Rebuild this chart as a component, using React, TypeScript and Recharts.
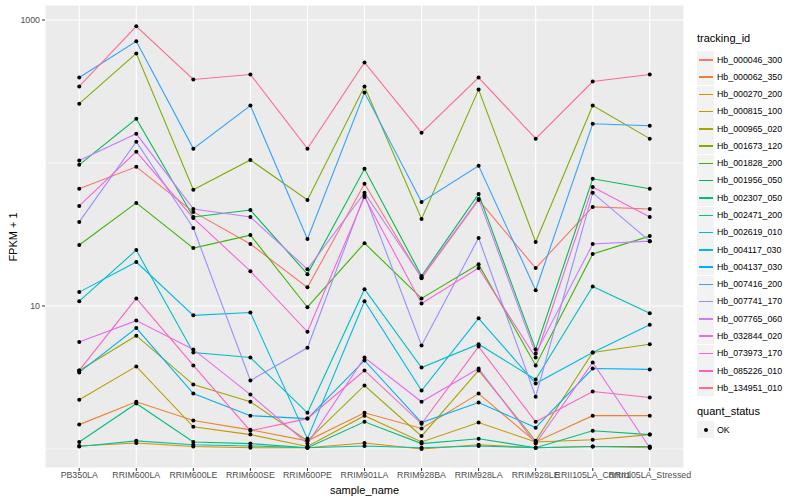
import React from 'react';
import { LineChart, Line, XAxis, YAxis, CartesianGrid } from 'recharts';

const SAMPLES = [
  'PB350LA', 'RRIM600LA', 'RRIM600LE', 'RRIM600SE', 'RRIM600PE', 'RRIM901LA',
  'RRIM928BA', 'RRIM928LA', 'RRIM928LE', 'RRII105LA_Control', 'RRII105LA_Stressed',
];

const TRACKING_IDS = [
  'Hb_000046_300', 'Hb_000062_350', 'Hb_000270_200', 'Hb_000815_100', 'Hb_000965_020',
  'Hb_001673_120', 'Hb_001828_200', 'Hb_001956_050', 'Hb_002307_050', 'Hb_002471_200',
  'Hb_002619_010', 'Hb_004117_030', 'Hb_004137_030', 'Hb_007416_200', 'Hb_007741_170',
  'Hb_007765_060', 'Hb_032844_020', 'Hb_073973_170', 'Hb_085226_010', 'Hb_134951_010',
];

// ggplot default hue palette, 20 levels
const COLORS = [
  '#F8766D', '#EA8331', '#D89000', '#C09B00', '#A3A500', '#7CAE00', '#39B600', '#00BB4E',
  '#00BF7D', '#00C1A3', '#00BFC4', '#00BAE0', '#00B0F6', '#35A2FF', '#9590FF', '#C77CFF',
  '#E76BF3', '#FA62DB', '#FF62BC', '#FF6C91',
];

// FPKM + 1 per sample
const HB_000046 = [66, 94, 45.5, 27.1, 13.5, 71.5, 15.6, 55.2, 18.4, 49.3, 47.7];
const HB_000062 = [1.48, 2.14, 1.58, 1.36, 1.14, 1.79, 1.39, 2.44, 1.12, 1.71, 1.71];
const HB_000270 = [1.05, 1.1, 1.04, 1.02, 1.02, 1.1, 1.0, 1.07, 1.02, 1.04, 1.02];
const HB_000815 = [2.21, 3.78, 1.43, 1.26, 1.04, 1.71, 1.12, 1.53, 1.12, 1.16, 1.26];
const HB_000965 = [3.54, 6.2, 2.82, 2.14, 1.14, 2.78, 1.23, 3.54, 1.14, 4.73, 5.4];
const HB_001673 = [260, 584, 64.9, 105, 55.2, 343, 40.6, 326, 28.0, 252, 148];
const HB_001828 = [26.7, 52.6, 25.4, 31.3, 9.8, 27.5, 11.3, 19.6, 3.84, 23.1, 30.8];
const HB_001956 = [97, 204, 41.9, 46.9, 16.7, 91, 16.2, 60.8, 4.97, 77.5, 66];
const HB_002307 = [1.12, 2.08, 1.12, 1.09, 1.02, 1.55, 1.09, 1.18, 1.02, 1.34, 1.26];
const HB_002471 = [1.04, 1.14, 1.07, 1.05, 1.02, 1.05, 1.02, 1.05, 1.02, 1.04, 1.04];
const HB_002619 = [10.8, 24.6, 4.73, 4.36, 1.79, 13.1, 3.71, 5.4, 3.06, 13.7, 8.9];
const HB_004117 = [12.5, 20.3, 8.6, 9.0, 1.18, 10.8, 2.56, 8.2, 2.87, 4.73, 7.4];
const HB_004137 = [3.43, 7.0, 2.44, 1.71, 1.63, 4.16, 1.53, 2.11, 1.41, 3.65, 3.6];
const HB_007416 = [396, 709, 126, 252, 29.4, 311, 53.4, 95.6, 12.9, 188, 182];
const HB_007741 = [38.7, 141, 35.1, 3.01, 5.1, 59.8, 5.3, 29.9, 2.32, 61.8, 28.4];
const HB_007765 = [104, 160, 47.7, 41.9, 18.1, 61.8, 15.9, 56.1, 4.66, 27.1, 28.4];
const HB_032844 = [5.6, 7.9, 4.97, 2.4, 1.09, 4.36, 2.14, 3.65, 1.09, 4.03, 1.02];
const HB_073973 = [50.1, 120, 41.2, 17.5, 6.6, 57.9, 10.4, 18.4, 4.36, 68, 41.9];
const HB_085226 = [3.54, 11.3, 3.84, 1.34, 1.63, 3.54, 1.5, 5.2, 1.55, 2.52, 2.29];
const HB_134951 = [343, 903, 384, 416, 126, 505, 163, 396, 148, 371, 416];

const SERIES = [
  HB_000046, HB_000062, HB_000270, HB_000815, HB_000965, HB_001673, HB_001828,
  HB_001956, HB_002307, HB_002471, HB_002619, HB_004117, HB_004137, HB_007416,
  HB_007741, HB_007765, HB_032844, HB_073973, HB_085226, HB_134951,
];

const Y_TICKS = [10, 1000];
const Y_MINOR = [1, 100];
const X_TICKS = SAMPLES.map((_, i) => i + 1);

const data = SAMPLES.map((name, i) => {
  const row: Record<string, number | string> = { idx: i + 1, sample: name };
  SERIES.forEach((s, k) => {
    row[`s${k}`] = s[i];
  });
  return row;
});

const FONT = '"Liberation Sans", Arial, Helvetica, sans-serif';
const tickStyle = { fontSize: 8.8, fill: '#4D4D4D', fontFamily: FONT };

const App: React.FC = () => {
  return (
    <div style={{ position: 'relative', width: 800, height: 500, background: '#fff', fontFamily: FONT }}>
      <style>{'body{margin:0}'}</style>
      <LineChart width={800} height={500} data={data} margin={{ top: 5, right: 116, bottom: 5, left: 5 }}>
        <CartesianGrid fill="#EBEBEB" stroke="#FFFFFF" strokeWidth={1.1} />
        <CartesianGrid
          fill="none"
          stroke="#FFFFFF"
          strokeWidth={0.55}
          vertical={false}
          horizontalValues={Y_MINOR}
        />
        <XAxis
          dataKey="idx"
          type="number"
          domain={[0.4, 11.6]}
          ticks={X_TICKS}
          interval={0}
          tickFormatter={(v) => SAMPLES[v - 1]}
          axisLine={false}
          tickLine={{ stroke: '#333333' }}
          tickSize={3}
          tickMargin={1}
          height={27}
          tick={tickStyle}
          label={{ value: 'sample_name', position: 'insideBottom', offset: 1, style: { fontSize: 11, fill: '#000', fontFamily: FONT } }}
        />
        <YAxis
          type="number"
          scale="log"
          domain={[0.736, 1273]}
          allowDataOverflow
          ticks={Y_TICKS}
          tickFormatter={(v) => String(v)}
          axisLine={false}
          tickLine={{ stroke: '#333333' }}
          tickSize={3}
          tickMargin={2}
          width={40}
          tick={tickStyle}
        />
        {SERIES.map((_, k) => (
          <Line
            key={`line-${k}`}
            dataKey={`s${k}`}
            stroke={COLORS[k]}
            strokeWidth={1.1}
            dot={false}
            activeDot={false}
            isAnimationActive={false}
          />
        ))}
        {SERIES.map((_, k) => (
          <Line
            key={`pts-${k}`}
            dataKey={`s${k}`}
            stroke="none"
            dot={{ r: 2, fill: '#000000', stroke: 'none' }}
            activeDot={false}
            legendType="none"
            isAnimationActive={false}
          />
        ))}
      </LineChart>

      {/* y axis title */}
      <div
        style={{
          position: 'absolute', left: 13, top: 237, fontSize: 11, color: '#000',
          transform: 'translate(-50%, -50%) rotate(-90deg)', whiteSpace: 'nowrap',
        }}
      >
        FPKM + 1
      </div>

      {/* legend: tracking_id */}
      <div style={{ position: 'absolute', left: 697, top: 32, fontSize: 11, color: '#000' }}>tracking_id</div>
      {TRACKING_IDS.map((id, k) => (
        <div key={id} style={{ position: 'absolute', left: 697, top: 51 + k * 17.28, height: 17, display: 'flex', alignItems: 'center' }}>
          <div style={{ width: 17, height: 17, background: '#F2F2F2', position: 'relative' }}>
            <div style={{ position: 'absolute', left: 1.5, right: 1.5, top: 8, height: 1.5, background: COLORS[k] }} />
          </div>
          <span style={{ marginLeft: 3, fontSize: 8.8, color: '#000', whiteSpace: 'nowrap' }}>{id}</span>
        </div>
      ))}

      {/* legend: quant_status */}
      <div style={{ position: 'absolute', left: 697, top: 405, fontSize: 11, color: '#000' }}>quant_status</div>
      <div style={{ position: 'absolute', left: 697, top: 421, height: 17, display: 'flex', alignItems: 'center' }}>
        <div style={{ width: 17, height: 17, background: '#F2F2F2', position: 'relative' }}>
          <div style={{ position: 'absolute', left: 6.5, top: 6.5, width: 4, height: 4, borderRadius: 2, background: '#000' }} />
        </div>
        <span style={{ marginLeft: 3, fontSize: 8.8, color: '#000' }}>OK</span>
      </div>
    </div>
  );
};

export default App;
